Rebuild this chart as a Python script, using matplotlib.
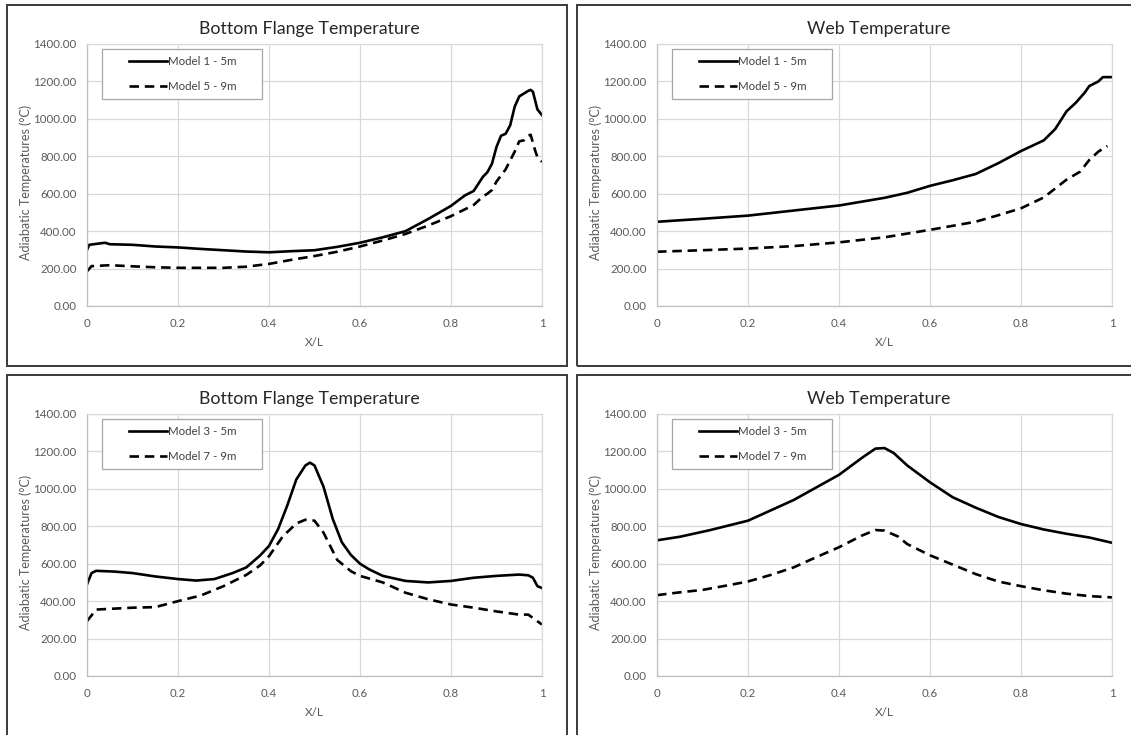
import matplotlib
matplotlib.use("Agg")
import matplotlib.pyplot as plt
from matplotlib.patches import Rectangle
from matplotlib.lines import Line2D
from matplotlib.legend_handler import HandlerLine2D

plt.rcParams['font.family'] = ['Lato', 'DejaVu Sans']

# ---------------- data ----------------
xticks = [0, 0.2, 0.4, 0.6, 0.8, 1.0]
xtick_labels = ['0', '0.2', '0.4', '0.6', '0.8', '1']
yticks = [0, 200, 400, 600, 800, 1000, 1200, 1400]
ytick_labels = ['0.00', '200.00', '400.00', '600.00', '800.00', '1000.00', '1200.00', '1400.00']

titles = ['Bottom Flange Temperature', 'Web Temperature',
          'Bottom Flange Temperature', 'Web Temperature']
labels_top = ['Model 1 - 5m', 'Model 5 - 9m']
labels_bottom = ['Model 3 - 5m', 'Model 7 - 9m']
xlabel = 'X/L'
ylabel = 'Adiabatic Temperatures (°C)'

# Top-left: Bottom flange, models 1 and 5
x_tl_m1 = [0, 0.005, 0.03, 0.04, 0.05, 0.1, 0.15, 0.2, 0.25, 0.3, 0.35, 0.4, 0.45, 0.5,
           0.55, 0.6, 0.65, 0.7, 0.75, 0.8, 0.83, 0.85, 0.87, 0.88, 0.89, 0.9, 0.91, 0.92,
           0.93, 0.94, 0.95, 0.96, 0.97, 0.975, 0.98, 0.99, 1.0]
tl_m1 = [300, 327, 335, 338, 330, 327, 318, 313, 305, 298, 291, 287, 293, 298,
         316, 338, 367, 400, 465, 535, 590, 615, 690, 715, 760, 850, 910, 920,
         965, 1065, 1120, 1135, 1150, 1155, 1145, 1050, 1020]
x_tl_m5 = [0, 0.01, 0.05, 0.1, 0.15, 0.2, 0.3, 0.35, 0.4, 0.45, 0.5, 0.55, 0.6, 0.65,
           0.7, 0.75, 0.8, 0.85, 0.87, 0.88, 0.89, 0.9, 0.92, 0.94, 0.95, 0.96, 0.97,
           0.975, 0.985, 0.99, 1.0]
tl_m5 = [185, 213, 218, 212, 207, 204, 204, 210, 225, 247, 267, 290, 318, 350,
         385, 430, 480, 540, 585, 600, 620, 665, 730, 825, 880, 885, 910,
         915, 830, 795, 770]

# Top-right: Web, models 1 and 5
x_tr_m1 = [0, 0.1, 0.2, 0.3, 0.4, 0.5, 0.55, 0.6, 0.65, 0.7, 0.75, 0.8, 0.85, 0.875,
           0.9, 0.92, 0.94, 0.95, 0.97, 0.98, 1.0]
tr_m1 = [450, 466, 483, 510, 537, 578, 605, 642, 672, 705, 763, 828, 885, 945,
         1040, 1085, 1140, 1175, 1200, 1223, 1223]
x_tr_m5 = [0, 0.1, 0.2, 0.3, 0.4, 0.5, 0.6, 0.7, 0.75, 0.8, 0.85, 0.9, 0.93, 0.95,
           0.97, 0.99]
tr_m5 = [290, 298, 307, 320, 340, 367, 407, 450, 485, 522, 580, 675, 718, 780,
         825, 855]

# Bottom-left: Bottom flange, models 3 and 7
x_bl_m3 = [0, 0.01, 0.02, 0.06, 0.1, 0.15, 0.2, 0.24, 0.28, 0.32, 0.35, 0.38, 0.4, 0.42,
           0.44, 0.46, 0.48, 0.49, 0.5, 0.52, 0.54, 0.56, 0.58, 0.6, 0.62, 0.65, 0.7,
           0.75, 0.8, 0.85, 0.9, 0.95, 0.97, 0.98, 0.99, 1.0]
bl_m3 = [490, 550, 562, 558, 550, 532, 518, 510, 518, 550, 580, 643, 695, 785,
         910, 1050, 1125, 1140, 1125, 1010, 840, 715, 647, 600, 570, 535, 508,
         500, 508, 525, 535, 542, 538, 525, 480, 470]
x_bl_m7 = [0, 0.02, 0.06, 0.1, 0.15, 0.2, 0.25, 0.3, 0.35, 0.38, 0.4, 0.43, 0.46, 0.48,
           0.5, 0.52, 0.55, 0.58, 0.6, 0.65, 0.7, 0.75, 0.8, 0.85, 0.9, 0.95, 0.97,
           0.98, 1.0]
bl_m7 = [293, 355, 360, 365, 368, 400, 430, 480, 540, 590, 640, 745, 815, 835,
         830, 765, 620, 560, 535, 500, 445, 410, 382, 365, 345, 328, 328,
         310, 275]

# Bottom-right: Web, models 3 and 7
x_br_m3 = [0, 0.05, 0.114, 0.2, 0.3, 0.4, 0.45, 0.48, 0.5, 0.52, 0.55, 0.6, 0.65, 0.7,
           0.75, 0.8, 0.85, 0.9, 0.95, 1.0]
br_m3 = [725, 744, 778, 830, 940, 1075, 1165, 1215, 1218, 1192, 1125, 1035, 955, 900,
         850, 812, 783, 760, 740, 712]
x_br_m7 = [0, 0.05, 0.1, 0.15, 0.2, 0.25, 0.3, 0.35, 0.4, 0.45, 0.48, 0.5, 0.53, 0.55,
           0.6, 0.65, 0.7, 0.75, 0.8, 0.85, 0.9, 0.95, 1.0]
br_m7 = [432, 447, 460, 482, 505, 540, 580, 635, 688, 750, 780, 777, 745, 705,
         645, 595, 545, 505, 480, 458, 440, 427, 420]

# ---------------- layout ----------------
W, H = 1131, 735
fig = plt.figure(figsize=(W / 100, H / 100), dpi=100)
fig.patch.set_facecolor('white')


def fr(x0, y0, x1, y1):
    """pixel box (top-left origin) -> figure fraction [l, b, w, h]"""
    return [x0 / W, 1 - y1 / H, (x1 - x0) / W, (y1 - y0) / H]


# panel borders
panel_boxes = [(7, 5, 567, 366), (577, 5, 1140, 366), (7, 375, 567, 745), (577, 375, 1140, 745)]
for (x0, y0, x1, y1) in panel_boxes:
    l, b, w, h = fr(x0, y0, x1, y1)
    fig.add_artist(Rectangle((l, b), w, h, transform=fig.transFigure,
                             facecolor='none', edgecolor='#3a3a3a', linewidth=1.4))

axes_boxes = [(87, 44, 542, 306), (657, 44, 1112, 306),
              (87, 414, 542, 676), (657, 414, 1112, 676)]

series = [
    (x_tl_m1, tl_m1, x_tl_m5, tl_m5, labels_top),
    (x_tr_m1, tr_m1, x_tr_m5, tr_m5, labels_top),
    (x_bl_m3, bl_m3, x_bl_m7, bl_m7, labels_bottom),
    (x_br_m3, br_m3, x_br_m7, br_m7, labels_bottom),
]

grid_c = '#d9d9d9'
text_c = '#595959'
leg_fs = 8.3

for i, box in enumerate(axes_boxes):
    ax = fig.add_axes(fr(*box))
    xa, ya, xb, yb, labs = series[i]
    l1, = ax.plot(xa, ya, color='black', linewidth=1.9, solid_joinstyle='round', label=labs[0])
    l2, = ax.plot(xb, yb, color='black', linewidth=1.9, linestyle=(0, (3.6, 2.2)),
                  label=labs[1])
    ax.set_xlim(0, 1)
    ax.set_ylim(0, 1400)
    ax.set_xticks(xticks)
    ax.set_xticklabels(xtick_labels)
    ax.set_yticks(yticks)
    ax.set_yticklabels(ytick_labels)
    ax.tick_params(axis='both', length=0, labelsize=8.3, labelcolor=text_c)
    ax.tick_params(axis='x', pad=8.5)
    ax.tick_params(axis='y', pad=7.5)
    ax.grid(True, color=grid_c, linewidth=0.9)
    ax.set_axisbelow(True)
    for s in ax.spines.values():
        s.set_color(grid_c)
        s.set_linewidth(0.9)
    ax.spines['left'].set_color('#bfbfbf')
    ax.spines['bottom'].set_color('#bfbfbf')

    ax.set_xlabel(xlabel, fontsize=8.5, color=text_c, va='center')
    ax.xaxis.set_label_coords(0.5, -(342 - 306) / 262)
    ax.set_ylabel(ylabel, fontsize=9.0, color=text_c, va='center')
    ax.yaxis.set_label_coords((26 - 87) / 455, 0.47)

    ax.text(0.488, 1 + (44 - 29) / 262, titles[i], transform=ax.transAxes,
            ha='center', va='center', fontsize=12.8, color='#262626')

    leg = ax.legend(handles=[l1, l2], loc='upper left',
                    bbox_to_anchor=(15 / 455, (1 - 5 / 262) - 0.3, 160 / 455, 0.3),
                    mode='expand', borderaxespad=0, fontsize=leg_fs,
                    frameon=True, fancybox=False, framealpha=1,
                    edgecolor='#a6a6a6', borderpad=0.65, handlelength=5.0,
                    handletextpad=0.1, labelspacing=1.17,
                    handler_map={Line2D: HandlerLine2D(xpad=1.7)})
    leg.get_frame().set_linewidth(0.9)
    for t in leg.get_texts():
        t.set_color('#404040')

fig.savefig('out.png', dpi=100, facecolor='white')
